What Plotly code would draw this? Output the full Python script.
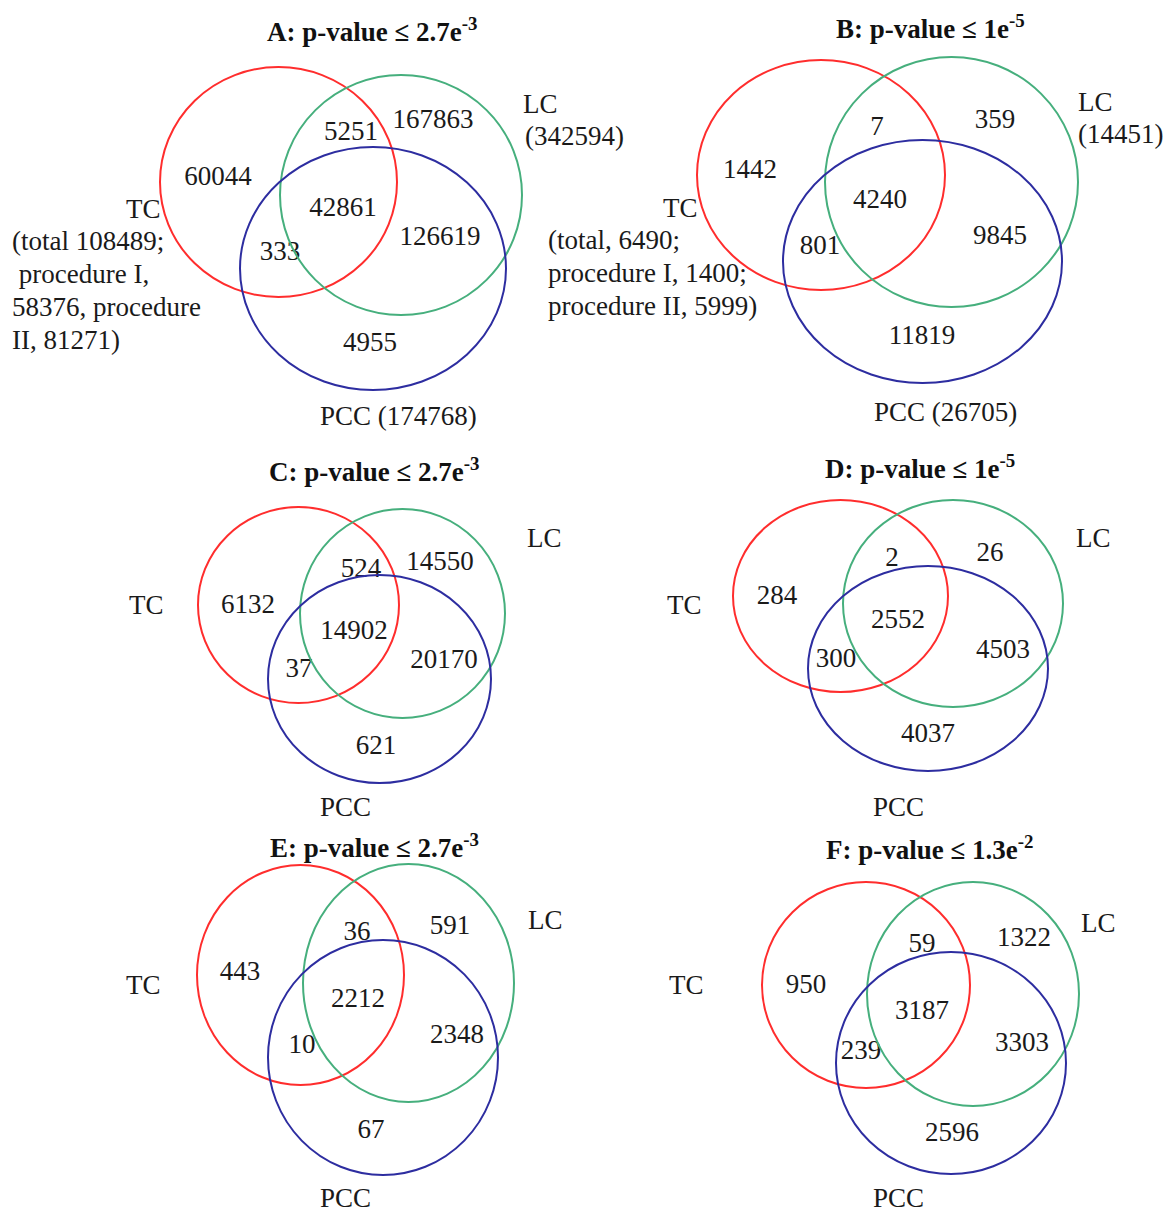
import plotly.graph_objects as go

# ---- data -------------------------------------------------------------
panel_titles = [
    "A: p-value ≤ 2.7e<sup>-3</sup>",
    "B: p-value ≤ 1e<sup>-5</sup>",
    "C: p-value ≤ 2.7e<sup>-3</sup>",
    "D: p-value ≤ 1e<sup>-5</sup>",
    "E: p-value ≤ 2.7e<sup>-3</sup>",
    "F: p-value ≤ 1.3e<sup>-2</sup>",
]
# region order: TC only, TC&LC only, LC only, TC&LC&PCC, LC&PCC only, TC&PCC only, PCC only
counts_A = [60044, 5251, 167863, 42861, 126619, 333, 4955]
counts_B = [1442, 7, 359, 4240, 9845, 801, 11819]
counts_C = [6132, 524, 14550, 14902, 20170, 37, 621]
counts_D = [284, 2, 26, 2552, 4503, 300, 4037]
counts_E = [443, 36, 591, 2212, 2348, 10, 67]
counts_F = [950, 59, 1322, 3187, 3303, 239, 2596]
panel_counts = [counts_A, counts_B, counts_C, counts_D, counts_E, counts_F]

lc_totals = [342594, 14451, None, None, None, None]
pcc_totals = [174768, 26705, None, None, None, None]
tc_notes = [
    ["(total 108489;", " procedure I,", "58376, procedure", "II, 81271)"],
    ["(total, 6490;", "procedure I, 1400;", "procedure II, 5999)"],
    [], [], [], [],
]

# ---- layout geometry (pixel space) -----------------------------------
W, H = 1167, 1212
FONT = "Liberation Serif, Times New Roman, serif"
FS = 27
TXT = "#1a1a1a"
RED, GREEN, BLUE = "rgb(255,45,45)", "rgb(70,175,125)", "rgb(45,45,160)"

title_pos = [(372, 30), (930, 27), (374, 470), (920, 467), (374, 846), (930, 848)]
# ellipse boxes (x0, x1, y0, y1) for TC, LC, PCC
circle_boxes = [
    [(160, 397, 67, 297), (280, 522, 75, 315), (240, 506, 147, 390)],
    [(697, 945, 60, 290), (825, 1078, 57, 307), (783, 1062, 140, 383)],
    [(198, 399, 507, 703), (300, 505, 509, 718), (268, 491, 575, 783)],
    [(733, 948, 500, 692), (843, 1063, 500, 707), (808, 1048, 566, 771)],
    [(197, 404, 865, 1085), (303, 514, 864, 1102), (268, 498, 940, 1175)],
    [(762, 970, 882, 1088), (867, 1079, 882, 1106), (836, 1066, 952, 1174)],
]
region_pos = [
    [(218, 178), (351, 133), (433, 121), (343, 209), (440, 238), (280, 253), (370, 344)],
    [(750, 171), (877, 128), (995, 121), (880, 201), (1000, 237), (820, 247), (922, 337)],
    [(248, 606), (361, 570), (440, 563), (354, 632), (444, 661), (299, 670), (376, 747)],
    [(777, 597), (892, 559), (990, 554), (898, 621), (1003, 651), (836, 660), (928, 735)],
    [(240, 973), (357, 933), (450, 927), (358, 1000), (457, 1036), (302, 1046), (371, 1131)],
    [(806, 986), (922, 945), (1024, 939), (922, 1012), (1022, 1044), (861, 1052), (952, 1134)],
]
tc_label_pos = [(143, 209), (680, 208), (146, 605), (684, 605), (143, 985), (686, 985)]
lc_label_pos = [(540, 104), (1095, 102), (544, 538), (1093, 538), (545, 920), (1098, 923)]
lc_total_pos = [(574, 136), (1120, 134), None, None, None, None]
pcc_label_pos = [(398, 416), (945, 412), (345, 807), (898, 807), (345, 1198), (898, 1198)]
tc_note_start = [(10, 241), (546, 240), None, None, None, None]
LINE_STEP = 33

fig = go.Figure()
shapes, annotations = [], []


def label(x, y, text, **kw):
    annotations.append(dict(x=x, y=y, xref="x", yref="y", text=text, showarrow=False,
                            font=dict(family=FONT, size=FS, color=TXT), **kw))


for i in range(6):
    # circles
    for box, col in zip(circle_boxes[i], (RED, GREEN, BLUE)):
        x0, x1, y0, y1 = box
        shapes.append(dict(type="circle", xref="x", yref="y", x0=x0, x1=x1, y0=y0, y1=y1,
                           line=dict(color=col, width=2)))
    # region counts
    xs = [p[0] for p in region_pos[i]]
    ys = [p[1] for p in region_pos[i]]
    fig.add_trace(go.Scatter(
        x=xs, y=ys, mode="text", text=[str(v) for v in panel_counts[i]],
        textfont=dict(family=FONT, size=FS, color=TXT),
        hoverinfo="skip", showlegend=False))
    # title
    tx, ty = title_pos[i]
    annotations.append(dict(x=tx, y=ty, xref="x", yref="y", text="<b>" + panel_titles[i] + "</b>",
                            showarrow=False, font=dict(family=FONT, size=FS, color="#111")))
    # set labels
    label(*tc_label_pos[i], "TC")
    label(*lc_label_pos[i], "LC")
    if lc_totals[i] is not None:
        label(*lc_total_pos[i], f"({lc_totals[i]})")
    pcc_text = "PCC" if pcc_totals[i] is None else f"PCC ({pcc_totals[i]})"
    label(*pcc_label_pos[i], pcc_text)
    if tc_notes[i]:
        x, y = tc_note_start[i]
        for k, line in enumerate(tc_notes[i]):
            text = "&nbsp;" + line[1:] if line.startswith(" ") else line
            label(x, y + k * LINE_STEP, text, xanchor="left")

fig.update_layout(
    width=W, height=H, margin=dict(l=0, r=0, t=0, b=0),
    paper_bgcolor="white", plot_bgcolor="white",
    xaxis=dict(range=[0, W], visible=False, fixedrange=True),
    yaxis=dict(range=[H, 0], visible=False, fixedrange=True),
    shapes=shapes, annotations=annotations,
)

fig.write_html("out.html")
